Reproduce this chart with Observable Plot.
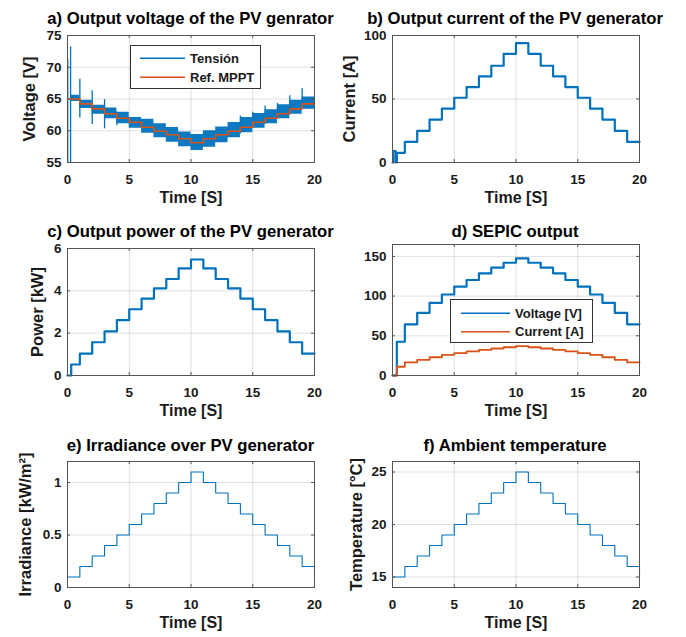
<!DOCTYPE html>
<html>
<head>
<meta charset="utf-8">
<script src="https://cdn.jsdelivr.net/npm/d3@7"></script>
<script src="https://cdn.jsdelivr.net/npm/@observablehq/plot@0.6"></script>
<style>
  html, body { margin: 0; padding: 0; background: #fff; }
  #root { position: relative; width: 686px; height: 637px; background: #fff; overflow: hidden; }
  #root svg { position: absolute; }
</style>
</head>
<body>
<div id="root"></div>
<script>
// ---------- data ----------
const xTicks = [0, 5, 10, 15, 20];

// a) PV voltage
const refT = [0,1,2,3,4,5,6,7,8,9,10,11,12,13,14,15,16,17,18,19,20];
const refV = [65.0,64.24,63.45,62.67,61.98,61.35,60.56,59.93,59.36,58.73,58.1,58.73,59.36,59.93,60.56,61.35,61.98,62.67,63.45,64.24,64.24];
const bandT = [0.3,1,2,3,4,5,6,7,8,9,10,11,12,13,14,15,16,17,18,19,20];
const bandLo = [64.6,63.5,62.6,61.9,61.1,60.4,59.6,58.9,58.2,57.5,56.9,57.4,58.1,58.9,59.7,60.4,61.1,61.9,62.6,63.4,63.4];
const bandHi = [65.6,64.8,64.0,63.6,62.9,62.1,61.8,61.1,60.5,59.8,59.4,60.0,60.6,61.3,62.1,62.7,63.3,64.1,64.8,65.3,65.3];
const spikeT = [0.02,0.25,1,2,3,4,14,15,16,17,18,19];
const spikeLo = [55,55,62.0,61.0,60.3,60.8,59.5,60.3,61.0,61.8,62.5,63.3];
const spikeHi = [71.2,73.2,68.1,66.3,64.9,62.9,62.3,62.9,63.9,64.3,65.5,66.6];
const aTicks = [55,60,65,70,75];

// b) PV current
const curT = [0,0.05,0.25,0.35,1,2,3,4,5,6,7,8,9,10,11,12,13,14,15,16,17,18,19,20];
const curV = [0,9,0,7.6,16.2,24.9,33.8,42.4,51.0,59.4,67.8,76.2,85.6,94.0,85.6,76.2,67.8,59.4,51.0,42.4,33.8,24.9,16.2,16.2];
const bTicks = [0,50,100];

// c) PV power
const powT = [0,0.3,1,2,3,4,5,6,7,8,9,10,11,12,13,14,15,16,17,18,19,20];
const powV = [0,0.52,1.03,1.57,2.08,2.62,3.13,3.63,4.12,4.56,5.06,5.48,5.06,4.56,4.12,3.63,3.13,2.62,2.08,1.57,1.03,1.03];
const cTicks = [0,2,4,6];

// d) SEPIC output
const sepT = [0,0.35,1,2,3,4,5,6,7,8,9,10,11,12,13,14,15,16,17,18,19,20];
const sepV = [0,42.5,64.5,79,91.5,102,112,120.3,128.7,135.8,142,147.5,142,135.8,128.7,120.3,112,102,91.5,79,64.5,64.5];
const sepI = [0,11,16.5,19.8,23,26,28.2,30.3,32.2,34,35.6,37,35.6,34,32.2,30.3,28.2,26,23,19.8,16.5,16.5];
const dTicks = [0,50,100,150];

// e) Irradiance
const irrT = [0,1,2,3,4,5,6,7,8,9,10,11,12,13,14,15,16,17,18,19,20];
const irrV = [0.1,0.2,0.3,0.4,0.5,0.6,0.7,0.8,0.9,1.0,1.1,1.0,0.9,0.8,0.7,0.6,0.5,0.4,0.3,0.2,0.1];
const eTicks = [0,0.5,1];

// f) Temperature
const tmpT = [0,1,2,3,4,5,6,7,8,9,10,11,12,13,14,15,16,17,18,19,20];
const tmpV = [15,16,17,18,19,20,21,22,23,24,25,24,23,22,21,20,19,18,17,16,15];
const fTicks = [15,20,25];

const BLUE = "#0072BD", ORANGE = "#D95319";
const FONT = "'Liberation Sans', Arial, Helvetica, sans-serif";
const root = document.getElementById("root");

function pts(t, v) { return t.map((x, i) => ({x, y: v[i]})); }

function panel(c) {
  const iw = c.w - c.ml - c.mr, ih = c.h - c.mt - c.mb;
  const marks = [
    Plot.gridX(xTicks, {stroke: "#000", strokeOpacity: 0.12}),
    Plot.gridY(c.yTicks, {stroke: "#000", strokeOpacity: 0.12}),
    ...c.marks,
    Plot.frame({stroke: "#555"}),
    Plot.tickX(xTicks, {x: d => d, insetTop: ih - 3, stroke: "#555"}),
    Plot.tickX(xTicks, {x: d => d, insetBottom: ih - 3, stroke: "#555"}),
    Plot.tickY(c.yTicks, {y: d => d, insetRight: iw - 3, stroke: "#555"}),
    Plot.tickY(c.yTicks, {y: d => d, insetLeft: iw - 3, stroke: "#555"}),
    Plot.axisX({ticks: xTicks, tickSize: 0, tickPadding: 12, label: null, fontSize: 13.5, tickFormat: d => String(d)}),
    Plot.axisY({ticks: c.yTicks, tickSize: 0, tickPadding: 6, label: null, fontSize: 13.5, tickFormat: d => String(d)}),
    Plot.text(["Time [S]"], {text: d => d, frameAnchor: "bottom", dy: 40, fontSize: 16, fontWeight: "bold"})
  ];
  if (c.yLabel) marks.push(Plot.text([c.yLabel], {text: d => d, frameAnchor: "left", textAnchor: "middle", dx: -c.yOff, rotate: -90, fontSize: 16.5, fontWeight: "bold"}));
  const svg = Plot.plot({
    width: c.w, height: c.h,
    marginLeft: c.ml, marginRight: c.mr, marginTop: c.mt, marginBottom: c.mb,
    x: {domain: [0, 20]},
    y: {domain: c.yDomain},
    style: {fontFamily: FONT, fontWeight: "bold", fontSize: "13px", color: "#1a1a1a", background: "transparent", overflow: "visible"},
    marks
  });
  svg.style.left = c.x0 + "px";
  svg.style.top = c.y0 + "px";
  root.appendChild(svg);
}

const stepLine = (t, v, o) => Plot.line(pts(t, v), {x: "x", y: "y", curve: "step-after", ...o});

// a
panel({x0: 0, y0: 0, w: 343, h: 210, ml: 67, mr: 29, mt: 35, mb: 48, yDomain: [55, 75], yTicks: aTicks, yLabel: "Voltage [V]", yOff: 38,
  marks: [
    Plot.areaY(bandT.map((x, i) => ({x, lo: bandLo[i], hi: bandHi[i]})), {x: "x", y1: "lo", y2: "hi", curve: "step-after", fill: BLUE, fillOpacity: 0.95}),
    Plot.ruleX(spikeT.map((x, i) => ({x, lo: spikeLo[i], hi: spikeHi[i]})), {x: "x", y1: "lo", y2: "hi", stroke: BLUE, strokeWidth: 1.3}),
    stepLine(refT, refV, {stroke: ORANGE, strokeWidth: 1.6})
  ]});
// b
panel({x0: 343, y0: 0, w: 343, h: 210, ml: 49, mr: 47, mt: 35, mb: 48, yDomain: [0, 100], yTicks: bTicks, yLabel: "Current [A]", yOff: 43,
  marks: [stepLine(curT, curV, {stroke: BLUE, strokeWidth: 2.2})]});
// c
panel({x0: 0, y0: 210, w: 343, h: 210, ml: 67, mr: 29, mt: 38, mb: 45, yDomain: [0, 6], yTicks: cTicks, yLabel: "Power [kW]", yOff: 30,
  marks: [stepLine(powT, powV, {stroke: BLUE, strokeWidth: 2.2})]});
// d
panel({x0: 343, y0: 210, w: 343, h: 210, ml: 49, mr: 47, mt: 34, mb: 45, yDomain: [0, 165], yTicks: dTicks, yLabel: null,
  marks: [
    stepLine(sepT, sepV, {stroke: BLUE, strokeWidth: 2.2}),
    stepLine(sepT, sepI, {stroke: ORANGE, strokeWidth: 1.8})
  ]});
// e
panel({x0: 0, y0: 420, w: 343, h: 217, ml: 67, mr: 29, mt: 41, mb: 50, yDomain: [0, 1.2], yTicks: eTicks, yLabel: "Irradiance [kW/m²]", yOff: 42,
  marks: [stepLine(irrT, irrV, {stroke: BLUE, strokeWidth: 1.1})]});
// f
panel({x0: 343, y0: 420, w: 343, h: 217, ml: 49, mr: 47, mt: 41, mb: 50, yDomain: [14, 26], yTicks: fTicks, yLabel: "Temperature [°C]", yOff: 36,
  marks: [stepLine(tmpT, tmpV, {stroke: BLUE, strokeWidth: 1.1})]});

// ---------- titles and legends overlay ----------
const titles = [
  {t: "a)  Output voltage of the PV genrator", x: 190.5, y: 23.5},
  {t: "b)  Output current of the PV generator", x: 515, y: 24},
  {t: "c)  Output power of the PV generator", x: 190.5, y: 236.5},
  {t: "d)  SEPIC output", x: 515, y: 236.5},
  {t: "e)  Irradiance over PV generator", x: 190.5, y: 451},
  {t: "f)  Ambient temperature", x: 515, y: 451}
];
const legends = [
  {x: 130, y: 45, w: 130, h: 43, items: [["Tensión", BLUE], ["Ref. MPPT", ORANGE]], lx1: 140, lx2: 185, tx: 190, rows: [58.3, 77.3]},
  {x: 450, y: 299, w: 142, h: 43, items: [["Voltage [V]", BLUE], ["Current [A]", ORANGE]], lx1: 461, lx2: 510, tx: 515, rows: [313.3, 331.7]}
];
const ns = "http://www.w3.org/2000/svg";
const ov = document.createElementNS(ns, "svg");
ov.setAttribute("width", 686); ov.setAttribute("height", 637);
ov.style.left = "0px"; ov.style.top = "0px";
ov.style.fontFamily = FONT;
function el(tag, attrs, text) {
  const e = document.createElementNS(ns, tag);
  for (const k in attrs) e.setAttribute(k, attrs[k]);
  if (text != null) e.textContent = text;
  ov.appendChild(e);
  return e;
}
for (const t of titles) el("text", {x: t.x, y: t.y, "text-anchor": "middle", "font-size": 16.7, "font-weight": "bold", fill: "#000"}, t.t);
for (const L of legends) {
  el("rect", {x: L.x + 0.5, y: L.y + 0.5, width: L.w, height: L.h, fill: "#fff", stroke: "#333", "stroke-width": 1});
  L.items.forEach(([name, col], i) => {
    const yy = L.rows[i];
    el("line", {x1: L.lx1, x2: L.lx2, y1: yy, y2: yy, stroke: col, "stroke-width": 1.5});
    el("text", {x: L.tx, y: yy + 4.6, "font-size": 13, "font-weight": "bold", fill: "#1a1a1a"}, name);
  });
}
root.appendChild(ov);
</script>
</body>
</html>
